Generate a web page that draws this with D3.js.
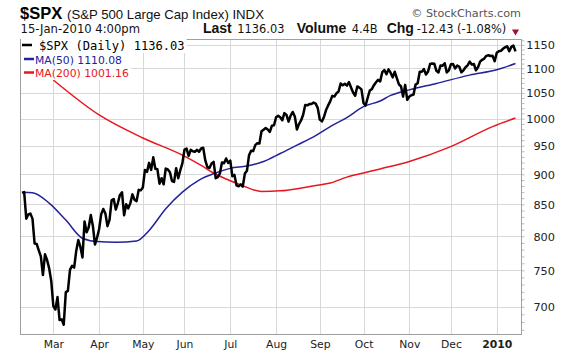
<!DOCTYPE html>
<html><head><meta charset="utf-8">
<script src="https://cdn.jsdelivr.net/npm/d3@7"></script>
<style>
html,body{margin:0;padding:0;background:#fff;}
svg{display:block;}
</style></head>
<body>
<svg id="chart" width="576" height="355"></svg>
<script>
// ---- Data (trading-day index 0 = 6-Feb-2009 ... 237 = 15-Jan-2010) ----
const spxClose = [
868.60,869.89,827.16,833.74,835.19,826.84,789.17,788.42,778.94,770.05,743.33,773.14,764.90,752.83,735.09,
700.82,696.33,712.87,682.55,683.38,676.53,719.60,721.36,750.74,756.55,753.89,778.12,794.35,784.04,768.54,822.92,806.12,813.88,832.86,815.94,787.53,797.87,
811.08,834.38,842.50,835.48,815.55,825.16,856.56,858.73,841.50,852.06,865.30,869.60,832.39,850.08,843.55,851.92,866.23,857.51,855.16,873.64,872.81,
877.52,907.24,903.80,919.53,907.39,929.23,909.24,908.35,883.92,893.07,882.88,909.71,908.13,903.47,888.33,887.00,910.33,893.06,906.83,919.14,
942.87,944.74,931.76,942.46,940.09,939.14,942.43,939.15,944.89,946.21,923.72,911.97,910.71,918.37,921.23,893.04,895.10,900.94,920.26,918.90,927.23,919.32,
923.33,896.42,898.72,881.03,879.56,882.68,879.13,901.05,905.84,932.68,940.74,940.38,951.13,954.58,954.07,976.29,979.26,982.18,979.62,975.15,986.75,987.48,
1002.63,1005.65,1002.72,997.08,1010.48,1007.10,994.35,1005.81,1012.73,1004.09,979.73,989.67,996.46,1007.37,1026.13,1025.57,1028.00,1028.12,1030.98,1028.93,1020.62,
998.04,994.75,1003.24,1016.40,1025.39,1033.37,1044.14,1042.73,1049.34,1052.63,1068.76,1065.49,1068.30,1064.66,1071.66,1060.87,1050.78,1044.38,1062.98,1060.61,1057.08,
1029.85,1025.21,1040.46,1054.72,1057.58,1065.48,1071.49,1076.19,1073.19,1092.02,1096.56,1087.68,1097.91,1091.06,1081.40,1092.91,1079.60,1066.95,1063.41,1042.63,1066.11,1036.19,
1042.88,1045.41,1046.50,1066.63,1069.30,1093.08,1093.01,1098.51,1087.24,1093.48,1109.30,1110.32,1109.80,1094.90,1091.38,1106.24,1105.65,1110.63,1091.49,1095.63,
1108.86,1109.24,1099.92,1105.98,1103.25,1091.94,1095.95,1102.35,1106.41,1114.11,1107.93,1109.18,1096.08,1102.47,1114.05,1118.02,1120.59,1126.48,1127.78,1126.20,1126.42,1115.10,
1132.99,1136.52,1137.14,1141.69,1144.98,1146.98,1136.22,1145.68,1148.46,1136.03
];
const ma50Idx   = [0,5,13,21,29,36,45,55,61,69,77,85,93,100,108,116,124,132,140,148,156,164,172,177,186,199,215,228,237];
const ma50Val   = [869.6,869,852,825,797,792,791,793,809,843,870,890,902,910,914,922,936,951,966,985,1002,1023,1034,1045,1056,1069,1086,1097,1110.08];
const ma200Idx  = [15,37,58,77,86,92,105,115,124,133,141,148,156,164,172,186,205,226,237];
const ma200Val  = [1076,1007,964,933,915,902,882,871,872,876,881,885,895,902,909,922,947,985,1001.16];
const monthIdx    = [15,37,58,78,100,122,143,164,186,206,228];
const monthLabels = ["Mar","Apr","May","Jun","Jul","Aug","Sep","Oct","Nov","Dec","2010"];
const priceTicks  = [700,750,800,850,900,950,1000,1050,1100,1150];
const legendItems = ["$SPX (Daily) 1136.03","MA(50) 1110.08","MA(200) 1001.16"];

// ---- Layout ----
const svg = d3.select("#chart");
const L = 20.5, R = 521.5, T = 39.5, B = 334.5;
const x = d3.scaleLinear().domain([0, spxClose.length - 1]).range([22.1, 515.5]);
const y = d3.scaleLog().domain([664.7, 1163]).range([334, 39]);
const sans = "'Liberation Sans', Arial, sans-serif";
const dv = "'DejaVu Sans', Verdana, sans-serif";

// gridlines
const grid = svg.append("g").attr("stroke", "#d8d8d8").attr("stroke-width", 1);
priceTicks.forEach(v => {
  const yy = Math.round(y(v)) + 0.5;
  grid.append("line").attr("x1", L).attr("x2", R).attr("y1", yy).attr("y2", yy);
});
monthIdx.forEach(i => {
  const xx = Math.round(x(i)) + 0.5;
  grid.append("line").attr("x1", xx).attr("x2", xx).attr("y1", T).attr("y2", B);
});

// minor ticks on right axis
const minor = d3.range(670, 1161, 10);
const rAxis = svg.append("g").attr("transform", `translate(${R},0)`)
  .call(d3.axisRight(y).tickValues(minor).tickFormat("").tickSize(3).tickSizeOuter(0));
rAxis.select(".domain").remove();
rAxis.selectAll("line").attr("stroke", "#bbb");

// plot border
svg.append("rect").attr("x", L).attr("y", T).attr("width", R - L).attr("height", B - T)
  .attr("fill", "none").attr("stroke", "#a0a0a0").attr("stroke-width", 1);

// lines
const lineIdx = d3.line().x((d, i) => x(i)).y(d => y(d));
const lineXY = d3.line().x(d => x(d[0])).y(d => y(d[1])).curve(d3.curveMonotoneX);

svg.append("path").datum(d3.zip(ma200Idx, ma200Val)).attr("d", lineXY)
  .attr("fill", "none").attr("stroke", "#e8161e").attr("stroke-width", 1.5);
svg.append("path").datum(d3.zip(ma50Idx, ma50Val)).attr("d", lineXY)
  .attr("fill", "none").attr("stroke", "#22229a").attr("stroke-width", 1.5);
svg.append("path").datum(spxClose).attr("d", lineIdx)
  .attr("fill", "none").attr("stroke", "#000").attr("stroke-width", 2.5)
  .attr("stroke-linejoin", "round");

// right axis labels
const lab = svg.append("g").attr("transform", `translate(${R},0)`)
  .call(d3.axisRight(y).tickValues(priceTicks).tickFormat(d3.format("d")).tickSize(0));
lab.select(".domain").remove();
lab.selectAll("text").attr("x", 555 - R).attr("text-anchor", "end").attr("dy", "0.35em")
  .attr("font-family", dv).attr("font-size", 11.3).attr("fill", "#222");

// bottom axis labels
const bx = svg.append("g").attr("transform", `translate(0,${B})`)
  .call(d3.axisBottom(x).tickValues(monthIdx).tickFormat((d, i) => monthLabels[i]).tickSize(0));
bx.select(".domain").remove();
bx.selectAll("text").attr("y", 13).attr("dy", 0)
  .attr("font-family", dv).attr("font-size", 10.8).attr("fill", "#222")
  .attr("font-weight", (d, i) => monthLabels[i] === "2010" ? "bold" : "normal");

// legend with white backgrounds
const leg = svg.append("g");
const legColors = ["#000", "#22229a", "#e8161e"];
const legBase = [50, 63.5, 77];
const legFont = ["'DejaVu Sans Mono', monospace", dv, dv];
const legSize = [12.1, 10.8, 10.8];
const legTextX = [39, 35, 35];
const legDash = [[22, 32, 45], [24, 34, 59], [24, 34, 72.5]];
legendItems.forEach((t, i) => {
  const txt = leg.append("text").attr("x", legTextX[i]).attr("y", legBase[i])
    .attr("font-family", legFont[i]).attr("font-size", legSize[i]).attr("fill", legColors[i]).text(t);
  const bb = txt.node().getBBox();
  leg.insert("rect", "text").attr("x", 21).attr("y", bb.y).attr("width", bb.x + bb.width - 21 + 2)
    .attr("height", bb.height).attr("fill", "#fff");
  leg.append("line").attr("x1", legDash[i][0]).attr("x2", legDash[i][1])
    .attr("y1", legDash[i][2]).attr("y2", legDash[i][2])
    .attr("stroke", legColors[i]).attr("stroke-width", 2.5);
});

// header
svg.append("text").attr("x", 20).attr("y", 19).attr("font-family", sans).attr("font-weight", "bold")
  .attr("font-size", 16.5).attr("fill", "#000").text("$SPX");
svg.append("text").attr("x", 67).attr("y", 18.5).attr("font-family", sans)
  .attr("font-size", 13.2).attr("fill", "#111").text("(S&P 500 Large Cap Index) INDX");
svg.append("text").attr("x", 521).attr("y", 17).attr("text-anchor", "end").attr("font-family", dv)
  .attr("font-size", 11.2).attr("fill", "#555").text("© StockCharts.com");
svg.append("text").attr("x", 20.5).attr("y", 33).attr("font-family", dv)
  .attr("font-size", 11.6).attr("fill", "#111").text("15-Jan-2010 4:00pm");

const hdr = [
  ["Last", 203, true], ["1136.03", 237.3, false],
  ["Volume", 296.7, true], ["4.4B", 351.7, false],
  ["Chg", 386.7, true], ["-12.43 (-1.08%)", 416.7, false]
];
hdr.forEach(h => {
  svg.append("text").attr("x", h[1]).attr("y", 33)
    .attr("font-family", h[2] ? sans : dv)
    .attr("font-weight", h[2] ? "bold" : "normal")
    .attr("font-size", h[2] ? 14 : 11.4).attr("fill", "#111").text(h[0]);
});
svg.append("path").attr("d", d3.symbol().type(d3.symbolTriangle).size(22)())
  .attr("transform", "translate(515.5,31.5) rotate(180)").attr("fill", "#a3122d");
</script>
</body></html>
